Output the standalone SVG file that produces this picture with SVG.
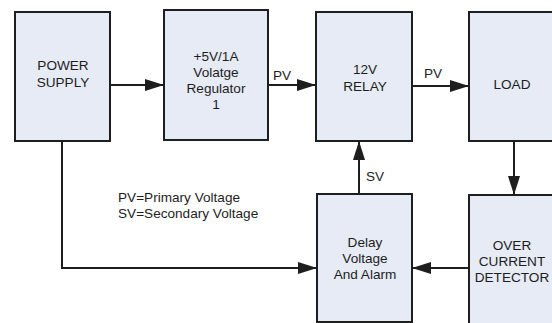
<svg xmlns="http://www.w3.org/2000/svg" width="552" height="323" viewBox="0 0 552 323">
<style>
.box{fill:#e6ebf5;stroke:#1e1e1e;stroke-width:2}
.t{font-family:"Liberation Sans",Arial,sans-serif;font-size:13.6px;fill:#1e1e1e;text-anchor:middle}
.l{font-family:"Liberation Sans",Arial,sans-serif;font-size:13.6px;fill:#1e1e1e}
.c{fill:none;stroke:#1e1e1e;stroke-width:2}
</style>
<defs>
<marker id="ah" markerWidth="19" markerHeight="12" refX="19" refY="6" orient="auto" markerUnits="userSpaceOnUse">
<path d="M0,0 L19,6 L0,12 Z" fill="#1e1e1e"/>
</marker>
</defs>
<rect width="552" height="323" fill="#ffffff"/>
<g id="connectors">
<path class="c" d="M110,85 H164" marker-end="url(#ah)"/>
<path class="c" d="M268,85 H316" marker-end="url(#ah)"/>
<path class="c" d="M412,86 H469" marker-end="url(#ah)"/>
<path class="c" d="M514,141 V195" marker-end="url(#ah)"/>
<path class="c" d="M469,268 H412" marker-end="url(#ah)"/>
<path class="c" d="M359,194 V141" marker-end="url(#ah)"/>
<path class="c" d="M62,141 V268 H317" marker-end="url(#ah)"/>
<text class="l" x="273" y="80">PV</text>
<text class="l" x="424" y="78">PV</text>
<text class="l" x="366" y="181">SV</text>
</g>
<g id="power-supply">
<rect class="box" x="15" y="12" width="95" height="129"/>
<text class="t" x="63" y="70">POWER</text>
<text class="t" x="63" y="87">SUPPLY</text>
</g>
<g id="regulator">
<rect class="box" x="164" y="10" width="104" height="130"/>
<text class="t" x="216" y="61">+5V/1A</text>
<text class="t" x="216" y="77">Volatge</text>
<text class="t" x="216" y="93">Regulator</text>
<text class="t" x="216" y="109">1</text>
</g>
<g id="relay">
<rect class="box" x="316" y="12" width="96" height="129"/>
<text class="t" x="365" y="74">12V</text>
<text class="t" x="365" y="91">RELAY</text>
</g>
<g id="load">
<rect class="box" x="469" y="12" width="100" height="129"/>
<text class="t" x="512" y="89">LOAD</text>
</g>
<g id="delay">
<rect class="box" x="317" y="194" width="95" height="128"/>
<text class="t" x="365" y="247">Delay</text>
<text class="t" x="365" y="263">Voltage</text>
<text class="t" x="365" y="279">And Alarm</text>
</g>
<g id="over-current">
<rect class="box" x="469" y="195" width="100" height="140"/>
<text class="t" x="512" y="250">OVER</text>
<text class="t" x="512" y="266">CURRENT</text>
<text class="t" x="512" y="282">DETECTOR</text>
</g>
<g id="legend">
<text class="l" x="118" y="202">PV=Primary Voltage</text>
<text class="l" x="118" y="218">SV=Secondary Voltage</text>
</g>
</svg>
